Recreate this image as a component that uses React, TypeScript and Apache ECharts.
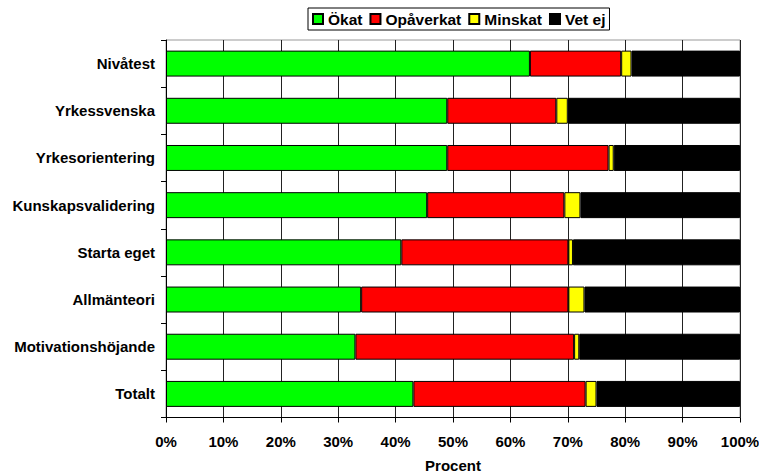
import React, { useEffect, useRef } from "react";
import * as echarts from "echarts";

const categories = [
  "Nivåtest",
  "Yrkessvenska",
  "Yrkesorientering",
  "Kunskapsvalidering",
  "Starta eget",
  "Allmänteori",
  "Motivationshöjande",
  "Totalt",
];
const okat = [63.4, 49, 49, 45.5, 41, 34, 33, 43.1];
const opaverkat = [15.9, 19, 28.1, 23.9, 29.1, 36.1, 38.1, 30];
const minskat = [1.8, 2, 0.9, 2.8, 0.8, 2.8, 0.9, 1.9];
const vetEj = [18.9, 30, 22, 27.8, 29.1, 27.1, 28, 25];
const xTicks = [0, 10, 20, 30, 40, 50, 60, 70, 80, 90, 100];

const FONT = "'Liberation Sans', Arial, sans-serif";

export default function App() {
  const ref = useRef<HTMLDivElement>(null);
  useEffect(() => {
    if (!ref.current) return;
    const chart = echarts.init(ref.current, null, { renderer: "svg" });
    const mk = (name: string, data: number[], color: string) => ({
      name,
      type: "bar",
      stack: "total",
      data,
      barCategoryGap: "45%",
      itemStyle: { color, borderColor: "#000", borderWidth: 1 },
    });
    chart.setOption({
      animation: false,
      backgroundColor: "#fff",
      textStyle: { fontFamily: FONT },
      legend: {
        left: 308,
        top: 8,
        orient: "horizontal",
        borderColor: "#000",
        borderWidth: 1,
        padding: [3, 4, 3, 4],
        itemWidth: 10,
        itemHeight: 10,
        itemGap: 7,
        icon: "rect",
        textStyle: { fontFamily: FONT, fontWeight: "bold", fontSize: 15.5, color: "#000" },
        data: ["Ökat", "Opåverkat", "Minskat", "Vet ej"],
      },
      grid: {
        left: 166,
        right: 19,
        top: 40,
        bottom: 54.5,
        show: true,
        borderColor: "#999",
        borderWidth: 1,
        outerBoundsMode: "none",
        containLabel: false,
      },
      xAxis: {
        type: "value",
        min: 0,
        max: 100,
        interval: 10,
        name: "Procent",
        nameLocation: "middle",
        nameGap: 40,
        nameTextStyle: { fontFamily: FONT, fontWeight: "bold", fontSize: 15, color: "#000" },
        axisLine: { show: true, lineStyle: { color: "#000", width: 1 } },
        axisTick: { show: true, length: 5, lineStyle: { color: "#000" } },
        splitLine: { show: true, lineStyle: { color: "#222", width: 1 } },
        axisLabel: {
          fontFamily: FONT,
          fontWeight: "bold",
          fontSize: 15,
          color: "#000",
          margin: 16,
          formatter: (v: number) => (xTicks.includes(v) ? v + "%" : ""),
        },
      },
      yAxis: {
        type: "category",
        inverse: true,
        data: categories,
        axisLine: { show: true, lineStyle: { color: "#000", width: 1 } },
        axisTick: { show: true, length: 5, interval: 0, lineStyle: { color: "#000" } },
        axisLabel: {
          fontFamily: FONT,
          fontWeight: "bold",
          fontSize: 15,
          color: "#000",
          margin: 11,
        },
        splitLine: { show: false },
      },
      series: [
        mk("Ökat", okat, "#00ff00"),
        mk("Opåverkat", opaverkat, "#ff0000"),
        mk("Minskat", minskat, "#ffff00"),
        mk("Vet ej", vetEj, "#000000"),
      ],
    });
    return () => chart.dispose();
  }, []);
  return <div ref={ref} style={{ width: 759, height: 472, position: "absolute", left: 0, top: 0 }} />;
}
